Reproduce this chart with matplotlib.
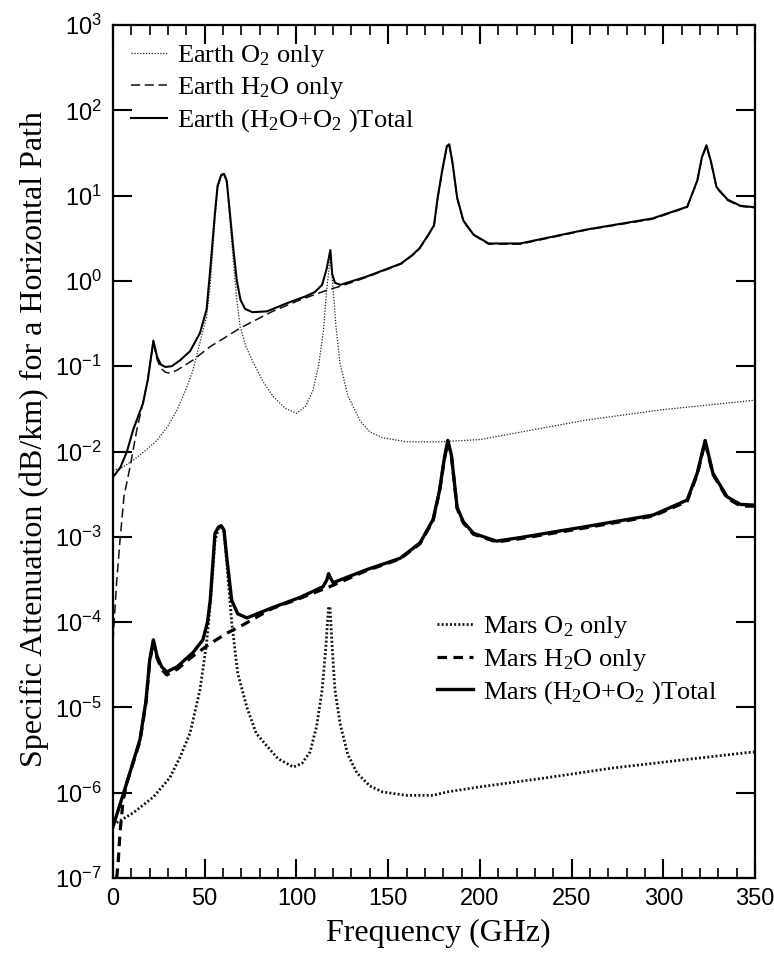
import numpy as np
import matplotlib
matplotlib.use("Agg")
import matplotlib.pyplot as plt
from matplotlib.ticker import MultipleLocator, FixedLocator, NullLocator

# fonts: Times-like serif for labels, sans for tick numbers
plt.rcParams['font.family'] = ['Liberation Serif', 'DejaVu Serif']
plt.rcParams['mathtext.fontset'] = 'custom'
plt.rcParams['mathtext.rm'] = 'Liberation Serif'
plt.rcParams['mathtext.it'] = 'Liberation Serif:italic'
plt.rcParams['mathtext.default'] = 'rm'

# ---- Earth ----
earth_tot_f = [0, 4, 7.6, 11, 16.4, 19, 22, 24, 26, 28.5, 32, 36.5, 42, 47.4, 51, 53, 55.5, 57, 59, 60.5,
               62, 63.5, 65.5, 67.5, 69.5, 72, 76, 84, 95, 105, 110, 114, 116.5, 118.5, 119.5, 121, 124,
               138, 150, 157, 163, 167, 172, 175, 177, 179.5, 182, 183.3, 185, 187.6, 191, 196.5, 204.7,
               222, 258, 294, 313, 318.5, 321, 323.5, 326, 329, 335, 342, 350]
earth_tot_v = [5.0e-3, 6.5e-3, 1.0e-2, 1.8e-2, 3.7e-2, 7e-2, 0.2, 0.13, 0.105, 0.098, 0.1, 0.117, 0.15, 0.245,
               0.46, 1.35, 6, 13, 17.5, 18, 15, 7, 2.5, 1.0, 0.6, 0.47, 0.43, 0.44, 0.55, 0.66, 0.74, 0.9,
               1.4, 2.3, 1.2, 0.95, 0.9, 1.12, 1.4, 1.6, 2.0, 2.4, 3.5, 4.5, 9.5, 20, 38, 40, 25, 9.5, 5.1,
               3.5, 2.75, 2.75, 4.0, 5.4, 7.4, 15, 28, 39, 25, 12.6, 9, 7.6, 7.3]

earth_h2o_f = [0, 2, 3.8, 6, 9.3, 13, 16.4, 19, 22, 24, 26, 28.5, 31, 35, 43.6, 53, 60, 69.3, 78, 87, 102,
               116.7, 125, 138, 150, 157, 163, 167, 172, 175, 177, 179.5, 182, 183.3, 185, 187.6, 191,
               196.5, 204.7, 222, 258, 294, 313, 318.5, 321, 323.5, 326, 329, 335, 342, 350]
earth_h2o_v = [6e-5, 3e-4, 9e-4, 3e-3, 6.6e-3, 1.8e-2, 3.8e-2, 7e-2, 0.19, 0.12, 0.095, 0.085, 0.083, 0.09,
               0.118, 0.17, 0.21, 0.28, 0.35, 0.44, 0.6, 0.78, 0.88, 1.1, 1.38, 1.58, 1.97, 2.37, 3.45,
               4.4, 9.3, 19.5, 37, 39, 24.5, 9.3, 5.0, 3.45, 2.7, 2.7, 3.95, 5.3, 7.3, 14.7, 27.5, 38,
               24.5, 12.3, 8.8, 7.5, 7.2]

earth_o2_f = [0, 5, 11, 17, 24, 30, 35, 40, 43.6, 47.4, 51, 53, 55.5, 57, 59, 60.5, 62, 63.5, 65.5, 67.5,
              69.3, 72.5, 76.5, 82, 87.4, 94, 100, 105, 109, 112, 114.7, 116.5, 118.5, 120, 121.5, 123.7,
              128, 134.7, 140, 147, 160, 178, 200, 258, 300, 350]
earth_o2_v = [6e-3, 6.5e-3, 7.9e-3, 1.0e-2, 1.35e-2, 2.0e-2, 3.1e-2, 5.5e-2, 9e-2, 0.19, 0.38, 0.9, 5, 12,
              17, 17.5, 14, 6, 1.8, 0.6, 0.29, 0.17, 0.11, 0.065, 0.044, 0.032, 0.028, 0.034, 0.052, 0.1,
              0.26, 0.8, 1.9, 0.8, 0.3, 0.11, 0.045, 0.023, 0.017, 0.0145, 0.013, 0.013, 0.0138, 0.0234,
              0.031, 0.040]

# ---- Mars ----
mars_tot_f = [0, 7.5, 14.7, 18, 20, 22, 24, 26.5, 29.3, 35, 43.6, 49, 51.5, 53, 55.6, 57.5, 59, 60.5, 62,
              64.7, 68, 73, 87, 102, 114.5, 116.5, 117.5, 118.5, 120, 138, 156.5, 167.4, 174.5, 178,
              180.5, 182.5, 184.5, 187.6, 191, 196.5, 209, 222, 258, 294.5, 313, 318.5, 322.8, 327,
              334.7, 342, 350]
mars_tot_v = [4e-7, 1.3e-6, 4.2e-6, 1.2e-5, 3.6e-5, 6.2e-5, 4e-5, 3e-5, 2.6e-5, 3.0e-5, 4.4e-5, 6.2e-5,
              1.0e-4, 1.8e-4, 1.1e-3, 1.3e-3, 1.35e-3, 1.2e-3, 5.8e-4, 1.8e-4, 1.25e-4, 1.12e-4, 1.48e-4,
              1.95e-4, 2.6e-4, 3.1e-4, 3.7e-4, 3.3e-4, 2.9e-4, 4.1e-4, 5.6e-4, 8.5e-4, 1.6e-3, 3.5e-3,
              8e-3, 1.35e-2, 9e-3, 2.2e-3, 1.5e-3, 1.1e-3, 8.9e-4, 9.8e-4, 1.32e-3, 1.8e-3, 2.7e-3,
              5.6e-3, 1.35e-2, 5.6e-3, 2.95e-3, 2.4e-3, 2.35e-3]

mars_h2o_f = [2, 2.8, 3.8, 5.5, 7.5, 14.7, 18, 20, 22, 24, 26.5, 29.3, 35, 43.6, 53, 62, 71, 80, 87, 102,
              116, 120, 138, 156.5, 167.4, 174.5, 178, 180.5, 182.5, 184.5, 187.6, 191, 196.5, 209, 222,
              258, 294.5, 313, 318.5, 322.8, 327, 334.7, 342, 350]
mars_h2o_v = [1.0e-7, 1.5e-7, 3.4e-7, 8e-7, 1.3e-6, 4.0e-6, 1.15e-5, 3.4e-5, 6e-5, 3.8e-5, 2.8e-5, 2.4e-5,
              2.8e-5, 4.0e-5, 5.6e-5, 7.4e-5, 9.3e-5, 1.2e-4, 1.45e-4, 1.9e-4, 2.5e-4, 2.7e-4, 4.0e-4,
              5.5e-4, 8.3e-4, 1.55e-3, 3.4e-3, 7.8e-3, 1.3e-2, 8.8e-3, 2.15e-3, 1.45e-3, 1.07e-3, 8.7e-4,
              9.5e-4, 1.28e-3, 1.75e-3, 2.6e-3, 5.4e-3, 1.3e-2, 5.4e-3, 2.85e-3, 2.3e-3, 2.28e-3]

mars_o2_f = [0, 11, 22, 31, 36.5, 42, 47.4, 51, 53, 55.6, 57.5, 59, 60.5, 62, 64.7, 68, 73, 78, 84, 90,
             98.3, 103, 107.4, 111, 114, 116, 117.5, 118.3, 119.5, 121, 123.7, 128, 133, 140, 147, 160,
             174.5, 182, 200, 236.6, 272.6, 309, 345.5, 350]
mars_o2_v = [4.2e-7, 5.8e-7, 8.9e-7, 1.5e-6, 2.6e-6, 5e-6, 1.6e-5, 5.6e-5, 1.6e-4, 9e-4, 1.25e-3, 1.3e-3,
             1.15e-3, 5e-4, 1.0e-4, 2.5e-5, 1.0e-5, 5e-6, 3.5e-6, 2.5e-6, 2.0e-6, 2.2e-6, 3.0e-6, 6e-6,
             1.6e-5, 5e-5, 1.5e-4, 1.5e-4, 5e-5, 1.6e-5, 6.6e-6, 2.8e-6, 1.7e-6, 1.2e-6, 1.02e-6, 9.3e-7,
             9.3e-7, 1.02e-6, 1.17e-6, 1.5e-6, 1.95e-6, 2.4e-6, 2.95e-6, 3.0e-6]

y_decades = [1e-7, 1e-6, 1e-5, 1e-4, 1e-3, 1e-2, 1e-1, 1e0, 1e1, 1e2, 1e3]

fig = plt.figure(figsize=(7.74, 9.56), dpi=100)
ax = fig.add_axes([0.146, 0.0816, 0.8295, 0.8922])

l1, = ax.plot(earth_o2_f, earth_o2_v, color='#222222', lw=0.9, ls=(0, (1, 1.3)), label='Earth O$_2$ only')
l2, = ax.plot(earth_h2o_f, earth_h2o_v, color='#111111', lw=1.1, ls=(0, (6, 3)), label='Earth H$_2$O only')
l3, = ax.plot(earth_tot_f, earth_tot_v, color='black', lw=1.5, label='Earth (H$_2$O+O$_2$ )Total')

m1, = ax.plot(mars_o2_f, mars_o2_v, color='#111111', lw=2.0, ls=(0, (0.7, 0.8)), label='Mars O$_2$ only')
m2, = ax.plot(mars_h2o_f, mars_h2o_v, color='black', lw=2.3, ls=(0, (3, 2)), label='Mars H$_2$O only')
m3, = ax.plot(mars_tot_f, mars_tot_v, color='black', lw=2.4, label='Mars (H$_2$O+O$_2$ )Total')

ax.set_yscale('log')
ax.set_xlim(0, 350)
ax.set_ylim(1e-7, 1e3)
ax.xaxis.set_major_locator(MultipleLocator(50))
ax.xaxis.set_minor_locator(MultipleLocator(10))
ax.yaxis.set_major_locator(FixedLocator(y_decades))
ax.yaxis.set_minor_locator(NullLocator())

ax.tick_params(which='both', direction='in', top=True, right=True)
ax.tick_params(which='major', length=14, width=1.5, labelsize=17)
ax.tick_params(which='minor', length=7, width=1.2)
ax.tick_params(axis='x', pad=7)
ax.tick_params(axis='y', pad=8)
for lab in ax.get_xticklabels() + ax.get_yticklabels():
    lab.set_family(['Liberation Sans Narrow', 'Liberation Sans', 'DejaVu Sans'])
for sp in ax.spines.values():
    sp.set_linewidth(1.6)

ax.set_xlabel('Frequency (GHz)', fontsize=23)
ax.set_ylabel('Specific Attenuation (dB/km) for a Horizontal Path', fontsize=23)
ax.xaxis.set_label_coords(0.506, -0.048)
ax.yaxis.set_label_coords(-0.10, 0.515)

leg1 = ax.legend(handles=[l1, l2, l3], loc='upper left', bbox_to_anchor=(0.028, 0.979),
                 frameon=False, fontsize=19, handlelength=1.35, handletextpad=0.4,
                 labelspacing=0.24, borderpad=0, borderaxespad=0)
ax.add_artist(leg1)
ax.legend(handles=[m1, m2, m3], loc='upper left', bbox_to_anchor=(0.505, 0.309),
          frameon=False, fontsize=19, handlelength=1.35, handletextpad=0.4,
          labelspacing=0.24, borderpad=0, borderaxespad=0)

fig.savefig('out.png', dpi=100)
